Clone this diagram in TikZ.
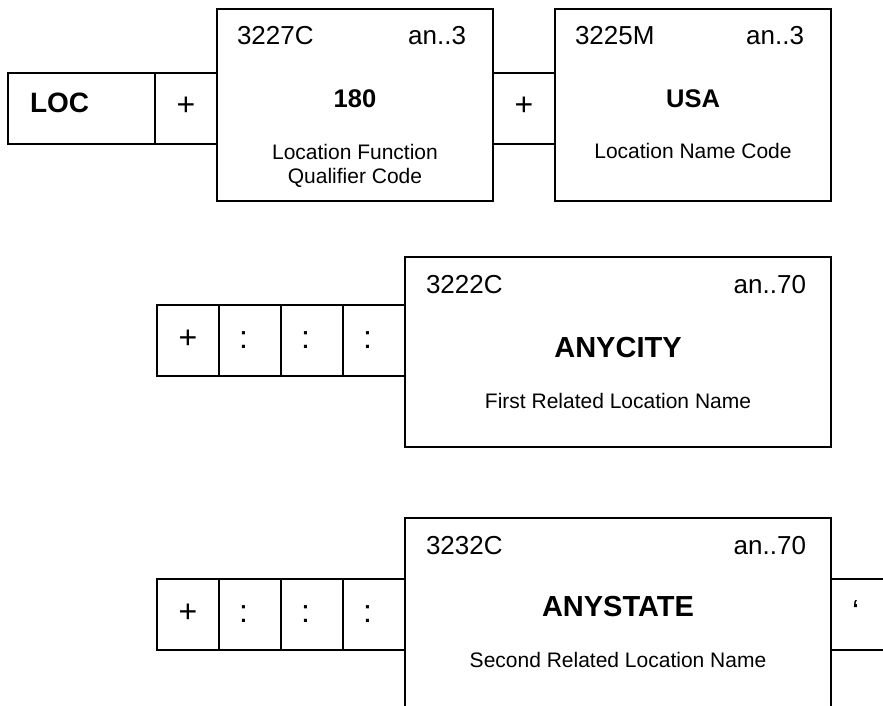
\documentclass[tikz,border=0pt]{standalone}
\usepackage{fontspec}
\setmainfont{Liberation Sans}
\usepackage{tikz}
\usetikzlibrary{positioning}

\begin{document}
\begin{tikzpicture}[x=1pt, y=1pt, line width=1.6pt,
	every node/.style={outer sep=0pt},
	fieldbox/.style={draw, minimum width=276pt, minimum height=192pt, inner sep=0pt},
	cell/.style={draw, minimum width=62pt, minimum height=71pt, inner sep=0pt,
		text height=18pt, text depth=3pt, font=\fontsize{32}{36}\selectfont},
	hdr/.style={inner sep=0pt, font=\fontsize{26}{30}\selectfont},
	val/.style={inner sep=0pt, font=\fontsize{25.5}{30}\selectfont\bfseries},
	bigval/.style={inner sep=0pt, font=\fontsize{29}{34}\selectfont\bfseries},
	desc/.style={inner sep=0pt, font=\fontsize{21}{25}\selectfont}]
	\useasboundingbox (0,0) rectangle (883,-706);
	\clip (0,0) rectangle (883,-706);
	% first row: LOC + 3227C + 3225M
	\node[fieldbox, anchor=north west] (qual) at (217,-9) {};
	\node[cell, anchor=north east] (plusA) at (217,-73) {+};
	\node[cell, left=0pt of plusA, minimum width=147pt, text width=103pt, inner xsep=22pt, align=left,
		text height=16pt, text depth=8pt, font=\fontsize{28}{32}\selectfont\bfseries] (loc) {LOC};
	\node[cell, anchor=north west] (plusB) at (qual.east |- plusA.north) {+};
	\node[fieldbox, anchor=north west] (name) at (plusB.east |- qual.north) {};
	\node[hdr, anchor=base west] (qualid) at ([shift={(20,-36)}]qual.north west) {3227C};
	\node[hdr, anchor=base east] (qualfmt) at ([shift={(-27,-36)}]qual.north east) {an..3};
	\node[val, anchor=base] (qualval) at ([yshift=-99pt]qual.north) {180};
	\node[desc, anchor=base] (qualdesc) at ([yshift=-151pt]qual.north) {Location Function};
	\node[desc, anchor=base] (qualdescb) at ([yshift=-174pt]qual.north) {Qualifier Code};
	\node[hdr, anchor=base west] (nameid) at ([shift={(20,-36)}]name.north west) {3225M};
	\node[hdr, anchor=base east] (namefmt) at ([shift={(-27,-36)}]name.north east) {an..3};
	\node[val, anchor=base] (nameval) at ([yshift=-99pt]name.north) {USA};
	\node[desc, anchor=base] (namedesc) at ([yshift=-149pt]name.north) {Location Name Code};
	% second row: 3222C
	\node[fieldbox, anchor=north west, minimum width=426pt, minimum height=190pt] (city) at (405,-257) {};
	\node[cell, anchor=north east, text width=22pt, inner xsep=20pt, align=left] (cityC) at (405,-305) {:};
	\node[cell, left=0pt of cityC, text width=22pt, inner xsep=20pt, align=left] (cityB) {:};
	\node[cell, left=0pt of cityB, text width=22pt, inner xsep=20pt, align=left] (cityA) {:};
	\node[cell, left=0pt of cityA] (cityplus) {+};
	\node[hdr, anchor=base west] (cityid) at ([shift={(21,-36)}]city.north west) {3222C};
	\node[hdr, anchor=base east] (cityfmt) at ([shift={(-25,-36)}]city.north east) {an..70};
	\node[bigval, anchor=base] (cityval) at ([yshift=-100pt]city.north) {ANYCITY};
	\node[desc, anchor=base] (citydesc) at ([yshift=-151pt]city.north) {First Related Location Name};
	% third row: 3232C, box runs past the bottom edge
	\node[fieldbox, anchor=north west, minimum width=426pt, minimum height=200pt] (state) at (405,-518) {};
	\node[cell, anchor=north east, text width=22pt, inner xsep=20pt, align=left] (stateC) at (405,-579) {:};
	\node[cell, left=0pt of stateC, text width=22pt, inner xsep=20pt, align=left] (stateB) {:};
	\node[cell, left=0pt of stateB, text width=22pt, inner xsep=20pt, align=left] (stateA) {:};
	\node[cell, left=0pt of stateA] (stateplus) {+};
	\node[cell, anchor=north west, text width=56pt, inner xsep=21pt, align=left] (term) at (state.east |- stateC.north) {‘};
	\node[hdr, anchor=base west] (stateid) at ([shift={(21,-36)}]state.north west) {3232C};
	\node[hdr, anchor=base east] (statefmt) at ([shift={(-25,-36)}]state.north east) {an..70};
	\node[bigval, anchor=base] (stateval) at ([yshift=-98pt]state.north) {ANYSTATE};
	\node[desc, anchor=base] (statedesc) at ([yshift=-149pt]state.north) {Second Related Location Name};
\end{tikzpicture}
\end{document}
